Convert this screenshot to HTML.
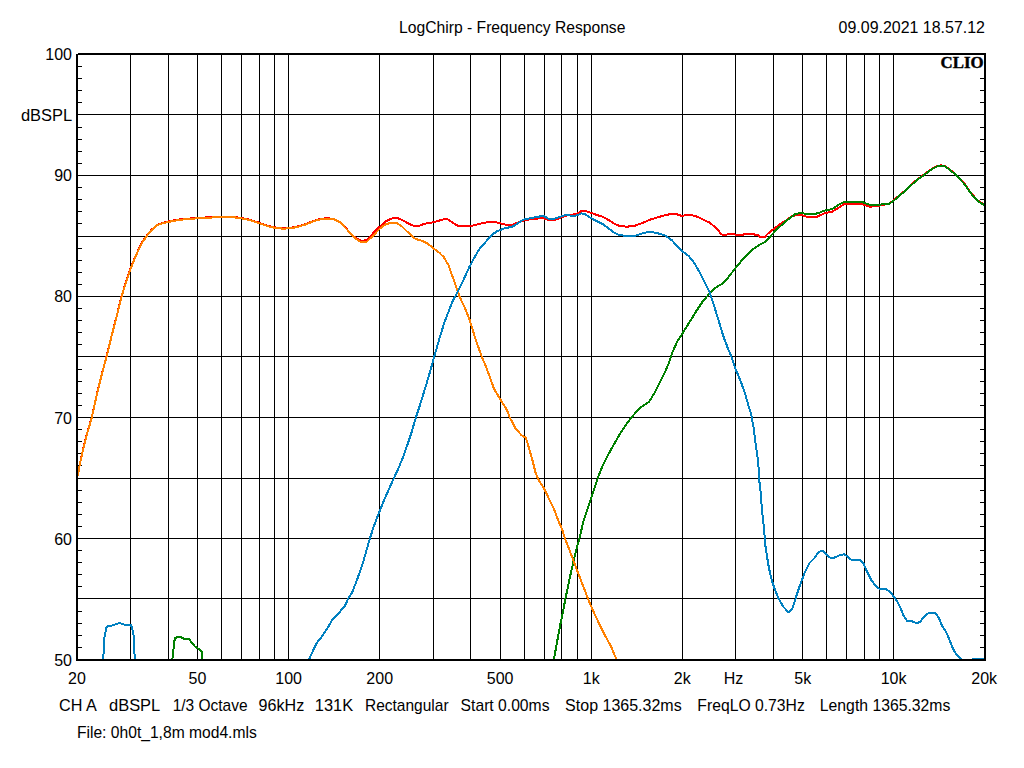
<!DOCTYPE html>
<html><head><meta charset="utf-8"><title>LogChirp - Frequency Response</title>
<style>
html,body{margin:0;padding:0;background:#fff;width:1024px;height:768px;overflow:hidden;font-family:"Liberation Sans",sans-serif;}
svg{display:block}
</style></head><body>
<svg width="1024" height="768" viewBox="0 0 1024 768">
<rect x="0" y="0" width="1024" height="768" fill="#fff"/>
<g fill="#000" shape-rendering="crispEdges"><rect x="130" y="55" width="1" height="604"/><rect x="168" y="55" width="1" height="604"/><rect x="197" y="55" width="1" height="604"/><rect x="221" y="55" width="1" height="604"/><rect x="241" y="55" width="1" height="604"/><rect x="259" y="55" width="1" height="604"/><rect x="274" y="55" width="1" height="604"/><rect x="288" y="55" width="1" height="604"/><rect x="379" y="55" width="1" height="604"/><rect x="433" y="55" width="1" height="604"/><rect x="470" y="55" width="1" height="604"/><rect x="500" y="55" width="1" height="604"/><rect x="524" y="55" width="1" height="604"/><rect x="544" y="55" width="1" height="604"/><rect x="561" y="55" width="1" height="604"/><rect x="577" y="55" width="1" height="604"/><rect x="591" y="55" width="1" height="604"/><rect x="682" y="55" width="1" height="604"/><rect x="735" y="55" width="1" height="604"/><rect x="773" y="55" width="1" height="604"/><rect x="802" y="55" width="1" height="604"/><rect x="826" y="55" width="1" height="604"/><rect x="846" y="55" width="1" height="604"/><rect x="864" y="55" width="1" height="604"/><rect x="879" y="55" width="1" height="604"/><rect x="893" y="55" width="1" height="604"/><rect x="78" y="598" width="906" height="1"/><rect x="78" y="538" width="906" height="1"/><rect x="78" y="478" width="906" height="1"/><rect x="78" y="417" width="906" height="1"/><rect x="78" y="356" width="906" height="1"/><rect x="78" y="296" width="906" height="1"/><rect x="78" y="236" width="906" height="1"/><rect x="78" y="175" width="906" height="1"/><rect x="78" y="114" width="906" height="1"/><rect x="78" y="647" width="4" height="1"/><rect x="980" y="647" width="4" height="1"/><rect x="78" y="635" width="4" height="1"/><rect x="980" y="635" width="4" height="1"/><rect x="78" y="623" width="4" height="1"/><rect x="980" y="623" width="4" height="1"/><rect x="78" y="611" width="4" height="1"/><rect x="980" y="611" width="4" height="1"/><rect x="78" y="586" width="4" height="1"/><rect x="980" y="586" width="4" height="1"/><rect x="78" y="574" width="4" height="1"/><rect x="980" y="574" width="4" height="1"/><rect x="78" y="562" width="4" height="1"/><rect x="980" y="562" width="4" height="1"/><rect x="78" y="550" width="4" height="1"/><rect x="980" y="550" width="4" height="1"/><rect x="78" y="526" width="4" height="1"/><rect x="980" y="526" width="4" height="1"/><rect x="78" y="514" width="4" height="1"/><rect x="980" y="514" width="4" height="1"/><rect x="78" y="502" width="4" height="1"/><rect x="980" y="502" width="4" height="1"/><rect x="78" y="490" width="4" height="1"/><rect x="980" y="490" width="4" height="1"/><rect x="78" y="465" width="4" height="1"/><rect x="980" y="465" width="4" height="1"/><rect x="78" y="453" width="4" height="1"/><rect x="980" y="453" width="4" height="1"/><rect x="78" y="441" width="4" height="1"/><rect x="980" y="441" width="4" height="1"/><rect x="78" y="429" width="4" height="1"/><rect x="980" y="429" width="4" height="1"/><rect x="78" y="405" width="4" height="1"/><rect x="980" y="405" width="4" height="1"/><rect x="78" y="393" width="4" height="1"/><rect x="980" y="393" width="4" height="1"/><rect x="78" y="381" width="4" height="1"/><rect x="980" y="381" width="4" height="1"/><rect x="78" y="369" width="4" height="1"/><rect x="980" y="369" width="4" height="1"/><rect x="78" y="344" width="4" height="1"/><rect x="980" y="344" width="4" height="1"/><rect x="78" y="332" width="4" height="1"/><rect x="980" y="332" width="4" height="1"/><rect x="78" y="320" width="4" height="1"/><rect x="980" y="320" width="4" height="1"/><rect x="78" y="308" width="4" height="1"/><rect x="980" y="308" width="4" height="1"/><rect x="78" y="284" width="4" height="1"/><rect x="980" y="284" width="4" height="1"/><rect x="78" y="272" width="4" height="1"/><rect x="980" y="272" width="4" height="1"/><rect x="78" y="260" width="4" height="1"/><rect x="980" y="260" width="4" height="1"/><rect x="78" y="248" width="4" height="1"/><rect x="980" y="248" width="4" height="1"/><rect x="78" y="223" width="4" height="1"/><rect x="980" y="223" width="4" height="1"/><rect x="78" y="211" width="4" height="1"/><rect x="980" y="211" width="4" height="1"/><rect x="78" y="199" width="4" height="1"/><rect x="980" y="199" width="4" height="1"/><rect x="78" y="187" width="4" height="1"/><rect x="980" y="187" width="4" height="1"/><rect x="78" y="163" width="4" height="1"/><rect x="980" y="163" width="4" height="1"/><rect x="78" y="151" width="4" height="1"/><rect x="980" y="151" width="4" height="1"/><rect x="78" y="139" width="4" height="1"/><rect x="980" y="139" width="4" height="1"/><rect x="78" y="127" width="4" height="1"/><rect x="980" y="127" width="4" height="1"/><rect x="78" y="102" width="4" height="1"/><rect x="980" y="102" width="4" height="1"/><rect x="78" y="90" width="4" height="1"/><rect x="980" y="90" width="4" height="1"/><rect x="78" y="78" width="4" height="1"/><rect x="980" y="78" width="4" height="1"/><rect x="78" y="66" width="4" height="1"/><rect x="980" y="66" width="4" height="1"/></g>
<svg x="78" y="55" width="906" height="604" viewBox="78 55 906 604" overflow="hidden"><g fill="none" stroke-width="2" stroke-linejoin="round" stroke-linecap="butt" shape-rendering="crispEdges"><polyline points="78.1,475.6 78.9,468.4 83.0,449.6 87.2,432.9 91.9,416.8 95.8,398.8 101.2,376.2 106.7,355.9 112.2,333.2 116.9,315.2 121.6,296.0 126.3,280.9 130.6,268.4 135.6,255.8 141.9,242.6 146.6,235.8 151.2,230.1 156.7,225.1 162.2,223.0 168.4,221.5 179.4,219.4 197.3,217.9 221.6,216.6 234.0,216.9 241.6,218.0 248.1,219.3 259.0,222.7 266.9,225.5 274.7,227.4 282.5,228.2 290.3,228.0 298.1,226.3 305.9,224.0 313.8,220.8 321.6,218.7 327.8,218.2 334.1,219.0 340.3,222.1 346.6,228.7 350.0,233.0 356.2,238.4 362.5,241.1 367.2,239.7 373.4,233.0 379.7,226.7 385.9,221.2 392.2,218.4 398.4,218.4 403.1,220.5 409.4,224.1 414.1,225.9 418.8,225.9 425.0,223.6 431.2,222.7 437.5,221.2 443.8,219.2 447.7,219.2 453.1,222.8 457.8,225.8 464.1,226.1 471.9,225.9 478.1,224.1 484.4,222.8 490.6,221.7 494.5,221.9 500.0,223.3 506.2,224.7 512.5,224.7 517.2,222.8 523.4,220.5 531.2,219.2 537.5,218.6 543.0,217.8 548.4,220.2 553.9,220.5 559.4,218.1 565.6,215.8 571.9,214.7 576.6,213.8 581.2,211.1 585.2,210.8 590.6,212.7 596.9,215.0 603.1,216.9 609.4,220.5 614.1,223.6 618.8,225.6 626.6,226.7 634.4,225.9 642.2,223.1 650.0,219.7 657.8,217.3 665.6,215.0 671.9,213.9 676.6,214.2 681.2,215.8 689.1,215.0 695.3,215.8 701.6,218.9 709.4,222.5 715.6,227.5 720.9,233.6 722.6,235.0 726.1,235.0 728.2,234.0 734.6,234.0 735.5,235.0 743.1,235.0 744.0,234.0 753.7,234.0 754.5,235.0 758.6,235.0 760.1,237.0 764.8,237.0 767.7,233.8 773.6,229.0 779.7,224.4 785.9,220.5 792.2,216.1 798.4,214.7 800.2,214.4 807.2,216.9 816.6,216.9 824.4,213.3 832.2,211.7 838.4,207.8 843.9,204.4 852.5,204.2 861.9,203.9 869.7,206.7 877.5,205.9 883.8,204.7 889.2,203.6 893.6,200.4 899.4,195.2 905.9,190.1 911.7,184.3 916.6,179.9 923.4,175.0 929.3,170.6 934.2,167.4 938.1,165.7 941.0,165.4 944.9,166.0 948.8,168.6 954.7,173.5 959.6,178.4 964.5,183.8 968.4,189.6 972.3,194.5 976.2,198.9 980.1,202.3 984.5,204.6" stroke="#ff0000"/><polyline points="172.3,661.0 172.5,658.4 173.2,653.3 174.0,641.9 175.3,638.1 177.6,637.1 181.4,637.4 183.9,638.7 189.0,639.0 191.6,642.5 194.7,646.3 198.5,648.9 201.5,651.4 202.1,658.4 202.2,661.0" stroke="#008000"/><polyline points="553.6,661.0 554.0,658.7 555.5,650.6 557.4,640.2 560.2,625.1 563.1,610.9 565.5,598.3 567.8,587.3 570.6,574.1 573.4,561.8 576.3,549.6 579.5,538.2 583.5,520.9 587.3,509.6 591.4,497.3 594.8,486.9 598.6,475.6 602.4,466.1 607.1,456.7 612.8,446.3 619.4,434.9 626.0,424.6 632.6,416.1 639.2,408.5 648.9,402.0 655.2,391.9 660.6,380.9 665.3,371.6 669.2,362.2 672.3,352.8 677.0,341.9 682.5,333.3 690.3,320.8 696.6,310.6 703.1,300.9 709.4,293.9 715.6,287.7 723.4,283.0 728.1,277.5 735.5,268.1 743.8,258.0 751.6,250.2 759.4,244.7 765.6,241.6 773.4,233.0 779.7,226.7 785.9,221.2 790.0,218.0 794.7,214.4 800.2,212.8 805.6,213.8 811.9,214.1 818.1,213.3 824.4,210.6 832.2,209.1 838.4,204.7 843.9,202.0 852.5,201.9 861.9,202.0 869.7,204.7 877.5,205.0 883.8,204.2 889.2,203.6 893.6,200.8 899.4,195.6 905.9,190.5 911.7,184.7 916.6,180.3 923.4,175.4 929.3,171.0 934.2,167.8 938.1,166.1 941.0,165.8 944.9,166.4 948.8,169.0 954.7,173.9 959.6,178.8 964.5,184.2 968.4,190.0 972.3,194.9 976.2,199.3 980.1,202.7 984.5,205.0" stroke="#008000"/><polyline points="78.1,476.0 78.9,468.8 83.0,450.0 87.2,433.3 91.9,417.2 95.8,399.2 101.2,376.6 106.7,356.2 112.2,333.6 116.9,315.6 121.6,296.4 126.3,281.3 130.6,268.8 135.6,256.2 141.9,243.0 146.6,236.2 151.2,230.5 156.7,225.5 162.2,223.4 168.4,221.9 179.4,219.8 197.3,218.3 221.6,217.0 234.0,217.3 241.6,218.4 248.1,219.7 259.0,223.1 266.9,225.9 274.7,227.8 282.5,228.6 290.3,228.4 298.1,226.7 305.9,224.4 313.8,221.2 321.6,219.1 327.8,218.6 334.1,219.4 340.3,222.5 346.6,229.1 352.8,236.1 359.1,241.2 363.0,242.5 366.9,241.6 373.4,235.3 379.7,228.8 385.9,224.1 391.4,222.8 396.9,223.1 401.6,226.2 407.8,232.2 412.5,236.9 416.4,239.2 421.9,240.8 428.1,243.9 433.6,248.6 439.1,252.5 443.8,257.2 448.4,265.0 452.3,275.9 456.2,286.9 459.4,296.2 465.2,308.6 469.8,320.3 473.8,333.6 477.7,345.3 481.6,356.2 486.2,367.2 490.2,378.1 494.1,389.1 498.8,396.9 502.7,403.1 506.6,409.4 509.7,417.2 515.5,428.3 521.2,434.9 525.9,437.8 528.7,447.2 532.5,460.4 535.3,471.8 538.2,479.3 544.8,489.7 549.5,500.1 554.2,509.6 558.0,519.9 561.8,528.4 564.9,538.2 569.7,550.5 573.8,561.8 578.2,573.2 582.9,585.4 587.6,597.7 592.3,609.1 598.0,621.3 604.6,634.6 611.2,646.8 615.9,658.2 618.0,664.0" stroke="#ff8000"/><polyline points="102.5,661.0 102.7,658.4 103.7,653.3 104.2,638.1 105.5,631.7 106.5,627.3 108.4,625.8 113.5,625.4 116.7,623.7 119.8,623.1 123.6,624.5 130.6,624.8 132.1,627.9 133.8,636.8 134.4,653.3 135.2,658.4 135.5,661.0" stroke="#0080c0"/><polyline points="309.0,660.0 309.8,657.9 312.7,651.3 317.0,642.8 322.1,636.2 327.8,627.7 332.5,619.2 339.5,612.2 344.8,605.9 348.6,598.0 352.0,592.7 356.1,582.3 359.9,571.9 363.3,561.6 366.5,550.2 369.9,538.3 373.1,528.5 375.8,520.9 379.4,511.6 383.6,501.4 388.3,490.5 393.8,478.3 398.4,468.6 403.1,456.9 407.8,443.6 411.7,431.9 415.9,417.3 419.1,407.8 422.2,397.7 426.1,385.2 430.0,371.9 433.9,357.8 436.6,348.4 440.2,335.9 444.1,323.4 448.8,310.9 453.1,300.0 456.2,294.7 462.5,282.2 468.8,268.1 475.0,256.4 479.7,248.6 485.9,241.6 492.2,234.5 496.9,231.4 503.1,228.8 506.2,228.0 512.5,226.7 517.2,223.6 523.4,219.7 531.2,218.1 537.5,216.9 543.0,215.8 548.4,218.6 553.9,218.9 559.4,216.9 565.6,215.0 571.9,215.8 576.6,215.5 581.2,213.4 585.2,214.2 590.6,217.8 596.9,221.2 603.1,224.4 609.4,229.1 614.1,232.5 618.8,234.8 626.6,236.1 634.4,236.1 642.2,233.4 650.0,231.7 657.8,233.3 665.6,235.6 671.9,240.3 678.1,247.0 682.8,251.7 689.1,256.4 694.5,263.4 700.0,272.8 704.7,282.2 709.4,291.6 712.5,300.9 715.3,309.8 719.2,322.3 723.1,335.6 727.8,348.1 731.7,357.5 735.6,369.2 740.3,380.2 745.0,393.4 748.1,404.4 751.2,414.4 753.6,427.7 755.5,442.8 757.4,456.0 758.7,469.2 759.3,480.6 760.8,493.8 761.7,507.0 763.1,520.2 764.4,533.4 765.3,545.0 767.0,556.4 768.9,567.8 771.7,580.1 774.6,588.6 778.3,598.0 783.1,606.5 788.7,612.5 792.5,608.4 796.3,596.1 800.1,584.8 804.8,572.5 809.5,563.1 814.2,558.3 818.9,551.7 822.7,550.8 826.5,554.6 830.3,557.8 834.1,557.8 838.8,555.5 844.4,554.2 847.3,556.4 851.1,559.7 859.6,559.7 863.3,563.1 867.1,571.6 870.9,579.5 875.6,585.7 880.3,589.5 886.0,589.1 890.5,592.3 894.1,597.0 897.6,602.3 900.5,608.1 903.4,615.2 907.5,621.3 911.6,621.0 916.9,623.4 920.4,621.6 923.9,616.9 927.5,613.8 930.4,612.6 935.1,613.0 938.6,617.5 942.1,625.7 946.2,632.2 949.7,640.4 953.2,649.1 956.8,655.0 960.9,658.5 964.0,661.0 969.0,661.0 972.6,659.2 984.0,659.2" stroke="#0080c0"/></g></svg>
<g fill="#000" shape-rendering="crispEdges"><rect x="76" y="53" width="910" height="2"/><rect x="76" y="659" width="910" height="2"/><rect x="76" y="53" width="2" height="608"/><rect x="984" y="53" width="2" height="608"/><rect x="76" y="53" width="2" height="1" fill="#fff"/></g>
<rect x="939" y="55" width="45" height="15" fill="#fff"/>
<text x="940.6" y="68" font-family="Liberation Serif, serif" font-weight="bold" font-size="17.5" textLength="43" lengthAdjust="spacingAndGlyphs" stroke="#000" stroke-width="0.45">CLIO</text>
<g font-family="Liberation Sans, sans-serif" font-size="16" fill="#000"><text x="72" y="60.0" text-anchor="end">100</text><text x="72" y="181.2" text-anchor="end">90</text><text x="72" y="302.4" text-anchor="end">80</text><text x="72" y="423.6" text-anchor="end">70</text><text x="72" y="544.8" text-anchor="end">60</text><text x="72" y="666.0" text-anchor="end">50</text><text transform="translate(72.2,120.6) scale(1.03,1)" text-anchor="end">dBSPL</text><text x="77.0" y="684" text-anchor="middle">20</text><text x="197.4" y="684" text-anchor="middle">50</text><text x="288.6" y="684" text-anchor="middle">100</text><text x="379.7" y="684" text-anchor="middle">200</text><text x="500.1" y="684" text-anchor="middle">500</text><text x="591.2" y="684" text-anchor="middle">1k</text><text x="682.3" y="684" text-anchor="middle">2k</text><text x="802.8" y="684" text-anchor="middle">5k</text><text x="893.6" y="684" text-anchor="middle">10k</text><text x="984.2" y="684" text-anchor="middle">20k</text><text x="733.6" y="684" text-anchor="middle">Hz</text><text transform="translate(399.12,33) scale(0.9787,1)" text-anchor="start">LogChirp - Frequency Response</text><text transform="translate(838.6,33) scale(0.9972,1)" text-anchor="start">09.09.2021 18.57.12</text><text transform="translate(58.99,711) scale(1.0135,1)" text-anchor="start">CH A</text><text transform="translate(108.98,711) scale(1.0306,1)" text-anchor="start">dBSPL</text><text transform="translate(172.63,711) scale(0.9697,1)" text-anchor="start">1/3 Octave</text><text transform="translate(258.54,711) scale(1.008,1)" text-anchor="start">96kHz</text><text transform="translate(314.86,711) scale(1.025,1)" text-anchor="start">131K</text><text transform="translate(364.95,711) scale(0.9694,1)" text-anchor="start">Rectangular</text><text transform="translate(460.61,711) scale(0.9811,1)" text-anchor="start">Start 0.00ms</text><text transform="translate(565.1,711) scale(1.0009,1)" text-anchor="start">Stop 1365.32ms</text><text transform="translate(697.32,711) scale(0.9833,1)" text-anchor="start">FreqLO 0.73Hz</text><text transform="translate(819.82,711) scale(0.9855,1)" text-anchor="start">Length 1365.32ms</text><text transform="translate(76.93,738) scale(0.9776,1)" text-anchor="start">File: 0h0t_1,8m mod4.mls</text></g>
</svg>
</body></html>
